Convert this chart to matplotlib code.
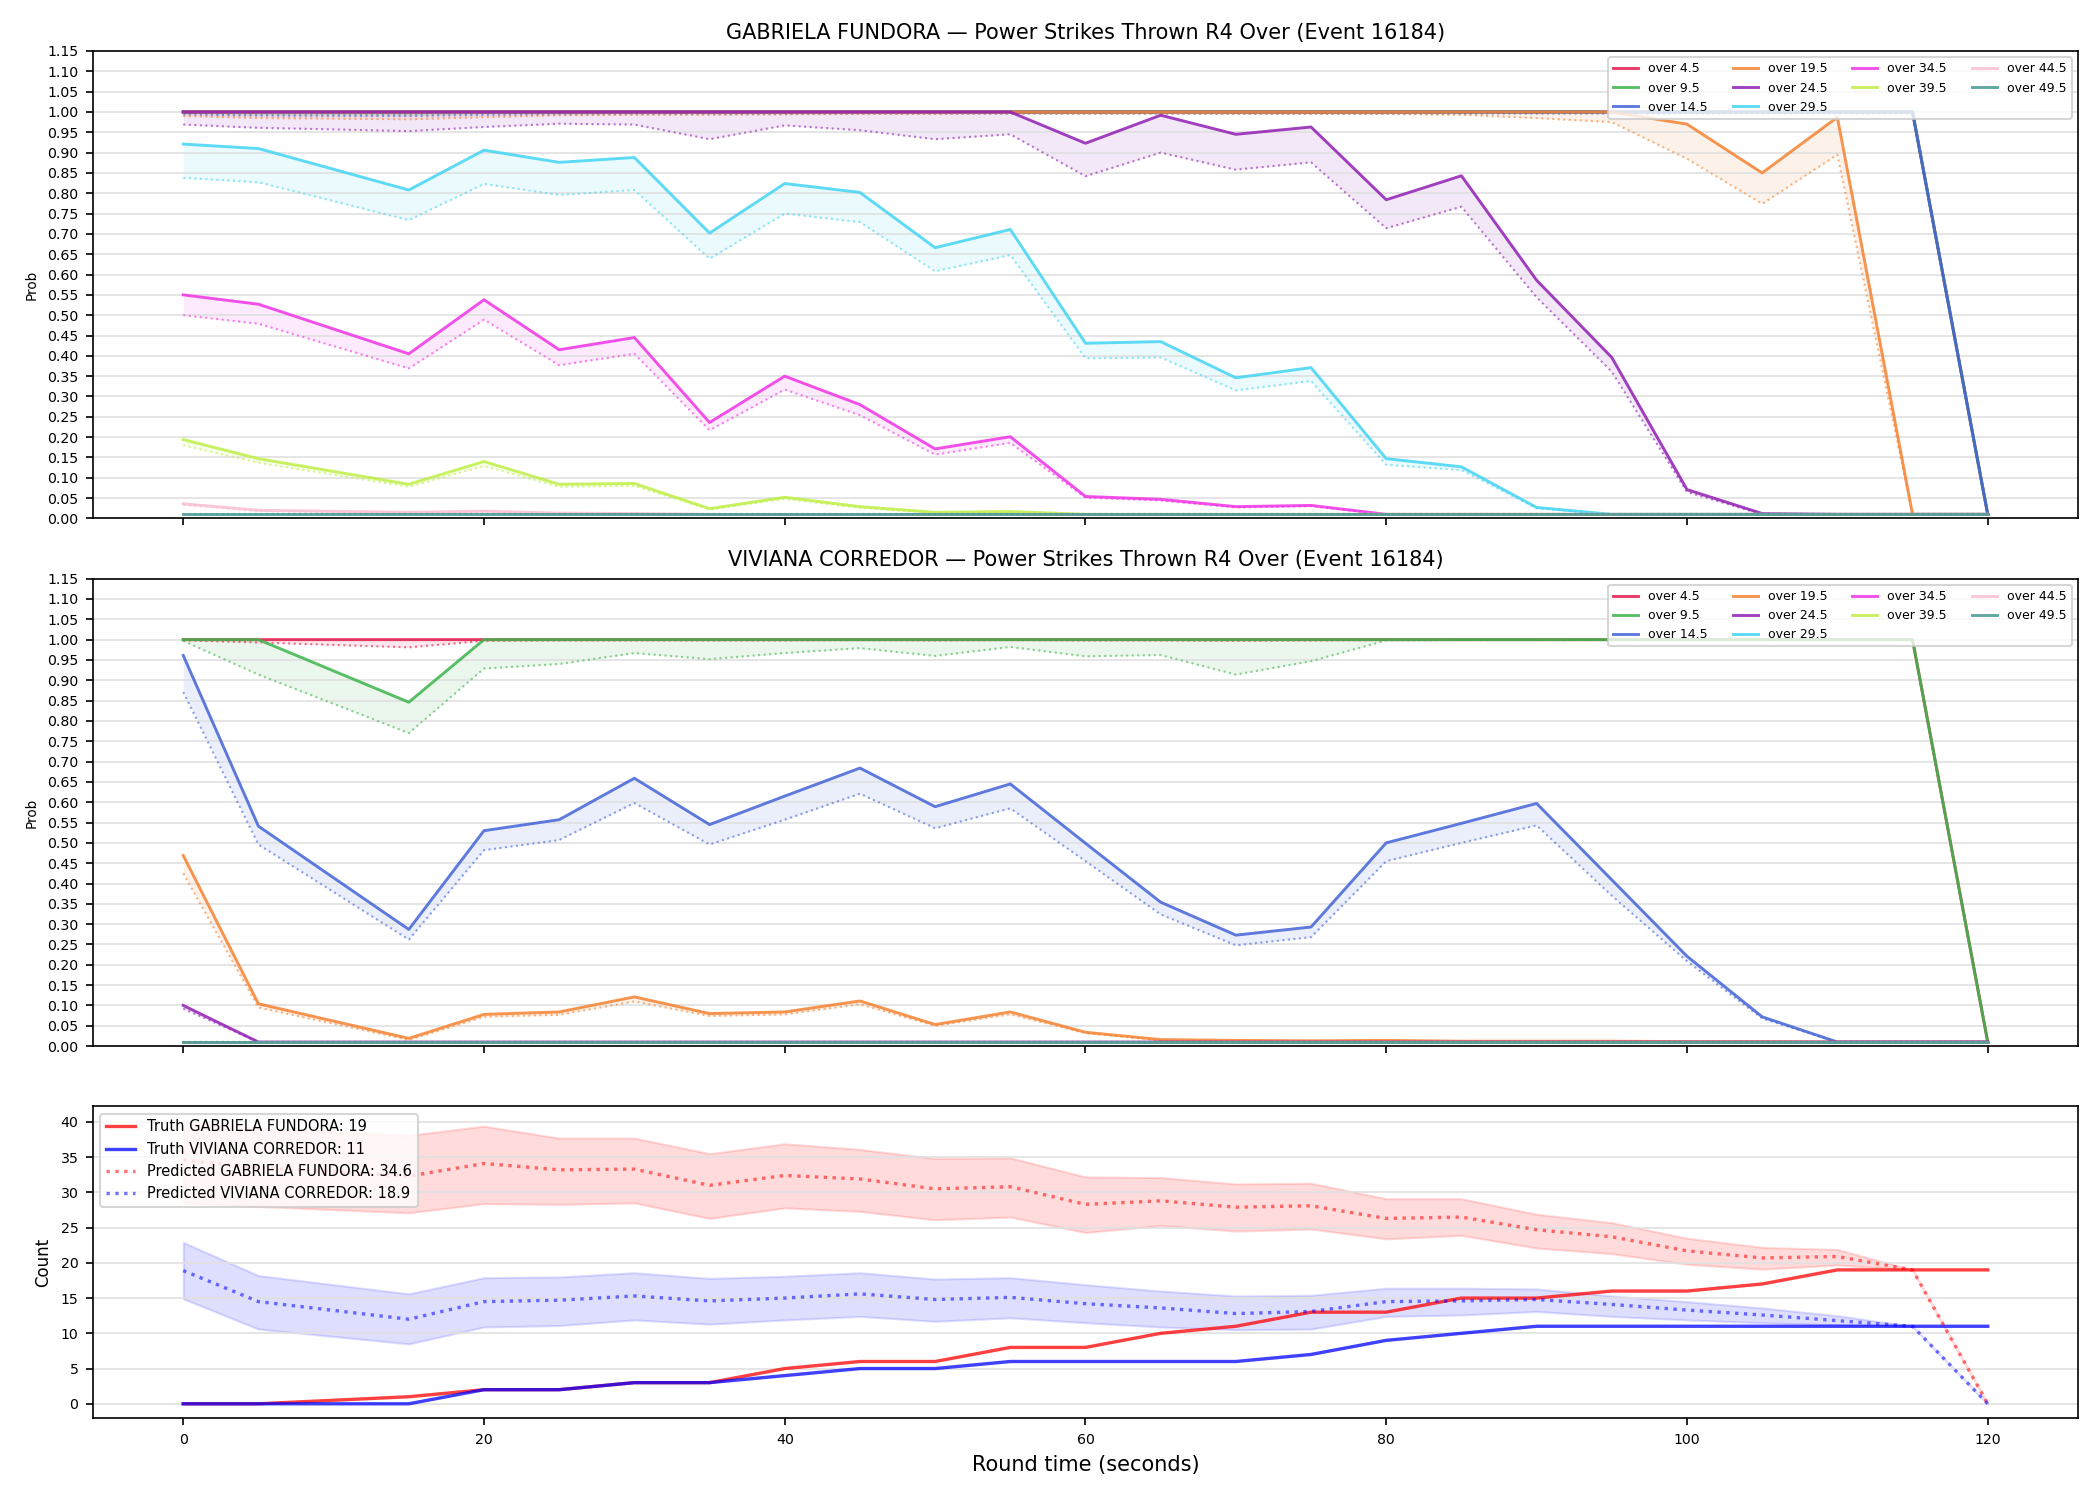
import numpy as np
from matplotlib import pyplot as plt

evento = 16184
lutadora_a = "GABRIELA FUNDORA"
lutadora_b = "VIVIANA CORREDOR"

tempo = [0, 5, 15, 20, 25, 30, 35, 40, 45, 50, 55, 60, 65, 70, 75, 80, 85, 90, 95, 100, 105, 110, 115, 120]

linhas = [4.5, 9.5, 14.5, 19.5, 24.5, 29.5, 34.5, 39.5, 44.5, 49.5]
cores = ["#e6194b", "#3cb44b", "#4363d8", "#f58231", "#911eb4",
         "#42d4f4", "#f032e6", "#bfef45", "#fabed4", "#469990"]

# GABRIELA FUNDORA - prob real (solida) e prevista (pontilhada), uma lista por linha
a_real = [
    [1, 1, 1, 1, 1, 1, 1, 1, 1, 1, 1, 1, 1, 1, 1, 1, 1, 1, 1, 1, 1, 1, 1, 0.01],
    [1, 1, 1, 1, 1, 1, 1, 1, 1, 1, 1, 1, 1, 1, 1, 1, 1, 1, 1, 1, 1, 1, 1, 0.01],
    [1, 1, 1, 1, 1, 1, 1, 1, 1, 1, 1, 1, 1, 1, 1, 1, 1, 1, 1, 1, 1, 1, 1, 0.01],
    [1, 1, 1, 1, 1, 1, 1, 1, 1, 1, 1, 1, 1, 1, 1, 1, 1, 1, 1, 0.970, 0.850, 0.987, 0.01, 0.01],
    [1, 1, 1, 1, 1, 1, 1, 1, 1, 1, 1, 0.923, 0.992, 0.945, 0.963, 0.784, 0.843, 0.586, 0.396, 0.071, 0.012, 0.01, 0.01, 0.01],
    [0.921, 0.910, 0.808, 0.906, 0.876, 0.888, 0.702, 0.824, 0.802, 0.666, 0.711, 0.431, 0.435, 0.346, 0.371, 0.147, 0.127, 0.027, 0.01, 0.01, 0.01, 0.01, 0.01, 0.01],
    [0.550, 0.527, 0.405, 0.538, 0.415, 0.445, 0.236, 0.350, 0.280, 0.171, 0.201, 0.054, 0.047, 0.029, 0.032, 0.01, 0.01, 0.01, 0.01, 0.01, 0.01, 0.01, 0.01, 0.01],
    [0.194, 0.147, 0.084, 0.140, 0.084, 0.086, 0.024, 0.052, 0.029, 0.015, 0.017, 0.01, 0.01, 0.01, 0.01, 0.01, 0.01, 0.01, 0.01, 0.01, 0.01, 0.01, 0.01, 0.01],
    [0.036, 0.020, 0.015, 0.018, 0.013, 0.012, 0.01, 0.01, 0.01, 0.01, 0.01, 0.01, 0.01, 0.01, 0.01, 0.01, 0.01, 0.01, 0.01, 0.01, 0.01, 0.01, 0.01, 0.01],
    [0.01, 0.01, 0.01, 0.01, 0.01, 0.01, 0.01, 0.01, 0.01, 0.01, 0.01, 0.01, 0.01, 0.01, 0.01, 0.01, 0.01, 0.01, 0.01, 0.01, 0.01, 0.01, 0.01, 0.01],
]
a_prev = [
    [0.999, 0.998, 0.997, 0.999, 0.999, 0.999, 0.999, 0.999, 0.999, 0.999, 0.999, 0.999, 0.999, 0.999, 0.999, 0.999, 0.999, 0.999, 0.999, 0.999, 0.999, 0.999, 0.999, 0.01],
    [0.997, 0.995, 0.994, 0.997, 0.997, 0.998, 0.998, 0.998, 0.998, 0.998, 0.998, 0.998, 0.998, 0.998, 0.998, 0.998, 0.998, 0.998, 0.998, 0.998, 0.998, 0.998, 0.998, 0.01],
    [0.994, 0.991, 0.990, 0.993, 0.994, 0.995, 0.995, 0.995, 0.996, 0.996, 0.996, 0.996, 0.996, 0.996, 0.996, 0.996, 0.996, 0.996, 0.996, 0.996, 0.996, 0.996, 0.996, 0.01],
    [0.990, 0.985, 0.982, 0.987, 0.992, 0.993, 0.993, 0.994, 0.995, 0.995, 0.996, 0.996, 0.996, 0.995, 0.995, 0.995, 0.993, 0.985, 0.975, 0.885, 0.774, 0.895, 0.01, 0.01],
    [0.969, 0.961, 0.953, 0.963, 0.971, 0.969, 0.933, 0.967, 0.955, 0.933, 0.945, 0.842, 0.900, 0.858, 0.876, 0.714, 0.767, 0.544, 0.361, 0.065, 0.01, 0.01, 0.01, 0.01],
    [0.838, 0.827, 0.734, 0.823, 0.796, 0.808, 0.639, 0.750, 0.729, 0.608, 0.648, 0.394, 0.396, 0.315, 0.338, 0.132, 0.119, 0.025, 0.01, 0.01, 0.01, 0.01, 0.01, 0.01],
    [0.500, 0.479, 0.369, 0.489, 0.377, 0.405, 0.217, 0.317, 0.254, 0.157, 0.186, 0.051, 0.044, 0.027, 0.030, 0.01, 0.01, 0.01, 0.01, 0.01, 0.01, 0.01, 0.01, 0.01],
    [0.180, 0.137, 0.078, 0.129, 0.078, 0.080, 0.022, 0.048, 0.026, 0.013, 0.014, 0.01, 0.01, 0.01, 0.01, 0.01, 0.01, 0.01, 0.01, 0.01, 0.01, 0.01, 0.01, 0.01],
    [0.033, 0.018, 0.014, 0.016, 0.012, 0.011, 0.01, 0.01, 0.01, 0.01, 0.01, 0.01, 0.01, 0.01, 0.01, 0.01, 0.01, 0.01, 0.01, 0.01, 0.01, 0.01, 0.01, 0.01],
    [0.01, 0.01, 0.01, 0.01, 0.01, 0.01, 0.01, 0.01, 0.01, 0.01, 0.01, 0.01, 0.01, 0.01, 0.01, 0.01, 0.01, 0.01, 0.01, 0.01, 0.01, 0.01, 0.01, 0.01],
]

# VIVIANA CORREDOR
b_real = [
    [1, 1, 1, 1, 1, 1, 1, 1, 1, 1, 1, 1, 1, 1, 1, 1, 1, 1, 1, 1, 1, 1, 1, 0.01],
    [1, 1, 0.846, 1, 1, 1, 1, 1, 1, 1, 1, 1, 1, 1, 1, 1, 1, 1, 1, 1, 1, 1, 1, 0.01],
    [0.961, 0.541, 0.287, 0.530, 0.557, 0.659, 0.545, 0.615, 0.684, 0.589, 0.645, 0.499, 0.354, 0.273, 0.293, 0.500, 0.548, 0.597, 0.409, 0.221, 0.072, 0.01, 0.01, 0.01],
    [0.469, 0.104, 0.019, 0.078, 0.084, 0.121, 0.080, 0.084, 0.111, 0.053, 0.084, 0.034, 0.016, 0.014, 0.013, 0.014, 0.012, 0.012, 0.012, 0.011, 0.011, 0.01, 0.01, 0.01],
    [0.100, 0.01, 0.01, 0.01, 0.01, 0.01, 0.01, 0.01, 0.01, 0.01, 0.01, 0.01, 0.01, 0.01, 0.01, 0.01, 0.01, 0.01, 0.01, 0.01, 0.01, 0.01, 0.01, 0.01],
    [0.01, 0.01, 0.01, 0.01, 0.01, 0.01, 0.01, 0.01, 0.01, 0.01, 0.01, 0.01, 0.01, 0.01, 0.01, 0.01, 0.01, 0.01, 0.01, 0.01, 0.01, 0.01, 0.01, 0.01],
    [0.01, 0.01, 0.01, 0.01, 0.01, 0.01, 0.01, 0.01, 0.01, 0.01, 0.01, 0.01, 0.01, 0.01, 0.01, 0.01, 0.01, 0.01, 0.01, 0.01, 0.01, 0.01, 0.01, 0.01],
    [0.01, 0.01, 0.01, 0.01, 0.01, 0.01, 0.01, 0.01, 0.01, 0.01, 0.01, 0.01, 0.01, 0.01, 0.01, 0.01, 0.01, 0.01, 0.01, 0.01, 0.01, 0.01, 0.01, 0.01],
    [0.01, 0.01, 0.01, 0.01, 0.01, 0.01, 0.01, 0.01, 0.01, 0.01, 0.01, 0.01, 0.01, 0.01, 0.01, 0.01, 0.01, 0.01, 0.01, 0.01, 0.01, 0.01, 0.01, 0.01],
    [0.01, 0.01, 0.01, 0.01, 0.01, 0.01, 0.01, 0.01, 0.01, 0.01, 0.01, 0.01, 0.01, 0.01, 0.01, 0.01, 0.01, 0.01, 0.01, 0.01, 0.01, 0.01, 0.01, 0.01],
]
b_prev = [
    [0.998, 0.993, 0.981, 0.997, 0.998, 0.998, 0.998, 0.998, 0.999, 0.998, 0.999, 0.998, 0.998, 0.997, 0.998, 0.999, 0.999, 0.999, 0.999, 0.999, 0.999, 0.999, 0.999, 0.01],
    [0.997, 0.914, 0.770, 0.929, 0.940, 0.967, 0.952, 0.967, 0.979, 0.960, 0.982, 0.959, 0.962, 0.914, 0.947, 0.998, 0.999, 0.999, 0.999, 0.999, 0.999, 0.999, 0.999, 0.01],
    [0.871, 0.496, 0.262, 0.482, 0.507, 0.598, 0.496, 0.557, 0.621, 0.536, 0.585, 0.455, 0.324, 0.248, 0.268, 0.455, 0.500, 0.543, 0.370, 0.209, 0.068, 0.01, 0.01, 0.01],
    [0.425, 0.095, 0.015, 0.072, 0.077, 0.110, 0.074, 0.078, 0.103, 0.050, 0.078, 0.032, 0.014, 0.012, 0.012, 0.012, 0.011, 0.011, 0.011, 0.01, 0.01, 0.01, 0.01, 0.01],
    [0.092, 0.01, 0.01, 0.01, 0.01, 0.01, 0.01, 0.01, 0.01, 0.01, 0.01, 0.01, 0.01, 0.01, 0.01, 0.01, 0.01, 0.01, 0.01, 0.01, 0.01, 0.01, 0.01, 0.01],
    [0.01, 0.01, 0.01, 0.01, 0.01, 0.01, 0.01, 0.01, 0.01, 0.01, 0.01, 0.01, 0.01, 0.01, 0.01, 0.01, 0.01, 0.01, 0.01, 0.01, 0.01, 0.01, 0.01, 0.01],
    [0.01, 0.01, 0.01, 0.01, 0.01, 0.01, 0.01, 0.01, 0.01, 0.01, 0.01, 0.01, 0.01, 0.01, 0.01, 0.01, 0.01, 0.01, 0.01, 0.01, 0.01, 0.01, 0.01, 0.01],
    [0.01, 0.01, 0.01, 0.01, 0.01, 0.01, 0.01, 0.01, 0.01, 0.01, 0.01, 0.01, 0.01, 0.01, 0.01, 0.01, 0.01, 0.01, 0.01, 0.01, 0.01, 0.01, 0.01, 0.01],
    [0.01, 0.01, 0.01, 0.01, 0.01, 0.01, 0.01, 0.01, 0.01, 0.01, 0.01, 0.01, 0.01, 0.01, 0.01, 0.01, 0.01, 0.01, 0.01, 0.01, 0.01, 0.01, 0.01, 0.01],
    [0.01, 0.01, 0.01, 0.01, 0.01, 0.01, 0.01, 0.01, 0.01, 0.01, 0.01, 0.01, 0.01, 0.01, 0.01, 0.01, 0.01, 0.01, 0.01, 0.01, 0.01, 0.01, 0.01, 0.01],
]

# contagem
real_a = [0, 0, 1, 2, 2, 3, 3, 5, 6, 6, 8, 8, 10, 11, 13, 13, 15, 15, 16, 16, 17, 19, 19, 19]
real_b = [0, 0, 0, 2, 2, 3, 3, 4, 5, 5, 6, 6, 6, 6, 7, 9, 10, 11, 11, 11, 11, 11, 11, 11]
prev_a = [34.6, 33.5, 32.3, 34.1, 33.2, 33.3, 31.0, 32.4, 31.9, 30.5, 30.8, 28.3, 28.8, 27.9, 28.1, 26.3, 26.5, 24.7, 23.7, 21.7, 20.7, 20.9, 19.0, 0.0]
sup_a = [40.2, 39.0, 38.1, 39.4, 37.7, 37.7, 35.5, 36.9, 36.1, 34.8, 34.9, 32.2, 32.1, 31.2, 31.3, 29.1, 29.1, 26.9, 25.7, 23.5, 22.2, 21.9, 19.0, 0.0]
inf_a = [28.5, 28.0, 27.1, 28.4, 28.3, 28.5, 26.3, 27.8, 27.3, 26.1, 26.5, 24.3, 25.3, 24.5, 24.8, 23.4, 23.9, 22.1, 21.3, 19.8, 19.1, 19.7, 19.0, 0.0]
prev_b = [18.9, 14.5, 12.0, 14.5, 14.7, 15.3, 14.6, 15.0, 15.6, 14.8, 15.1, 14.2, 13.6, 12.8, 13.1, 14.5, 14.6, 14.8, 14.1, 13.3, 12.6, 11.8, 11.0, 0.0]
sup_b = [22.9, 18.2, 15.6, 17.9, 18.0, 18.6, 17.8, 18.1, 18.6, 17.7, 17.9, 16.9, 16.0, 15.3, 15.4, 16.4, 16.4, 16.3, 15.3, 14.5, 13.6, 12.5, 11.0, 0.0]
inf_b = [14.9, 10.6, 8.5, 10.9, 11.1, 11.9, 11.3, 11.9, 12.4, 11.7, 12.2, 11.5, 10.9, 10.5, 10.6, 12.4, 12.6, 13.1, 12.4, 11.9, 11.5, 11.2, 11.0, 0.0]


def plotar_probs(ax, real, prev, nome):
    for i in range(len(linhas)):
        ax.fill_between(tempo, real[i], prev[i], color=cores[i], alpha=0.1, linewidth=0)
        ax.plot(tempo, prev[i], color=cores[i], linestyle=":", linewidth=1.0, alpha=0.6)
        ax.plot(tempo, real[i], color=cores[i], linewidth=1.4, alpha=0.85,
                label="over " + str(linhas[i]))
    ax.set_ylim(0, 1.15)
    ax.set_yticks(np.arange(0, 1.151, 0.05))
    ax.set_ylabel("Prob", fontsize=6.5)
    ax.set_title(nome + " \u2014 Power Strikes Thrown R4 Over (Event " + str(evento) + ")", fontsize=10)
    ax.grid(axis="y", color="#e0e0e0", linewidth=0.8)
    ax.legend(loc="upper right", ncol=4, fontsize=6.0)
    ax.tick_params(labelsize=6.8, labelbottom=False)


fig, axs = plt.subplots(3, 1, figsize=(14, 10), dpi=150, sharex=True,
                        gridspec_kw={"height_ratios": [3, 3, 2]})
fig.subplots_adjust(left=0.0443, right=0.9895, top=0.966, bottom=0.0547, hspace=0.145)

plotar_probs(axs[0], a_real, a_prev, lutadora_a)
plotar_probs(axs[1], b_real, b_prev, lutadora_b)

ax = axs[2]
ax.fill_between(tempo, inf_a, sup_a, color="red", alpha=0.14)
ax.fill_between(tempo, inf_b, sup_b, color="blue", alpha=0.13)
ax.plot(tempo, real_a, color="red", linewidth=1.6, alpha=0.75,
        label="Truth " + lutadora_a + ": " + str(real_a[-1]))
ax.plot(tempo, real_b, color="blue", linewidth=1.6, alpha=0.75,
        label="Truth " + lutadora_b + ": " + str(real_b[-1]))
ax.plot(tempo, prev_a, color="red", linestyle=":", linewidth=1.6, alpha=0.55,
        label="Predicted " + lutadora_a + ": " + str(prev_a[0]))
ax.plot(tempo, prev_b, color="blue", linestyle=":", linewidth=1.6, alpha=0.55,
        label="Predicted " + lutadora_b + ": " + str(prev_b[0]))
ax.set_ylabel("Count", fontsize=8)
ax.set_xlabel("Round time (seconds)", fontsize=10)
ax.set_xticks([0, 20, 40, 60, 80, 100, 120])
ax.grid(axis="y", color="#e0e0e0", linewidth=0.8)
ax.legend(loc="upper left", fontsize=7)
ax.tick_params(labelsize=6.8)

plt.savefig("out.png", dpi=150)
